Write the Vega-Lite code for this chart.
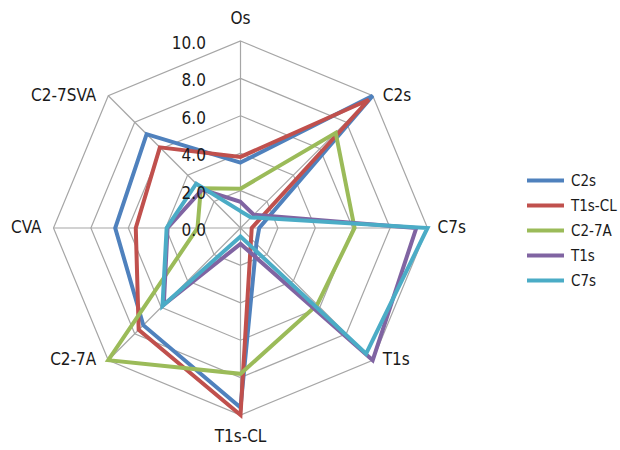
{
  "$schema": "https://vega.github.io/schema/vega-lite/v6.json",
  "width": 620,
  "height": 450,
  "autosize": "none",
  "padding": 0,
  "background": "white",
  "config": {
    "view": {"stroke": null},
    "text": {"font": "DejaVu Sans Condensed, Roboto, sans-serif", "fontSize": 17, "fill": "#1a1a1a"}
  },
  "datasets": {
    "series": [
      {"series": "C2s", "axis": "Os", "k": 0, "value": 3.5},
      {"series": "C2s", "axis": "C2s", "k": 1, "value": 10.0},
      {"series": "C2s", "axis": "C7s", "k": 2, "value": 1.0},
      {"series": "C2s", "axis": "T1s", "k": 3, "value": 1.2},
      {"series": "C2s", "axis": "T1s-CL", "k": 4, "value": 9.6},
      {"series": "C2s", "axis": "C2-7A", "k": 5, "value": 7.35},
      {"series": "C2s", "axis": "CVA", "k": 6, "value": 6.7},
      {"series": "C2s", "axis": "C2-7SVA", "k": 7, "value": 7.1},
      {"series": "T1s-CL", "axis": "Os", "k": 0, "value": 3.8},
      {"series": "T1s-CL", "axis": "C2s", "k": 1, "value": 9.7},
      {"series": "T1s-CL", "axis": "C7s", "k": 2, "value": 0.6},
      {"series": "T1s-CL", "axis": "T1s", "k": 3, "value": 0.8},
      {"series": "T1s-CL", "axis": "T1s-CL", "k": 4, "value": 10.0},
      {"series": "T1s-CL", "axis": "C2-7A", "k": 5, "value": 7.7},
      {"series": "T1s-CL", "axis": "CVA", "k": 6, "value": 5.6},
      {"series": "T1s-CL", "axis": "C2-7SVA", "k": 7, "value": 6.1},
      {"series": "C2-7A", "axis": "Os", "k": 0, "value": 2.1},
      {"series": "C2-7A", "axis": "C2s", "k": 1, "value": 7.2},
      {"series": "C2-7A", "axis": "C7s", "k": 2, "value": 6.1},
      {"series": "C2-7A", "axis": "T1s", "k": 3, "value": 5.8},
      {"series": "C2-7A", "axis": "T1s-CL", "k": 4, "value": 7.8},
      {"series": "C2-7A", "axis": "C2-7A", "k": 5, "value": 10.0},
      {"series": "C2-7A", "axis": "CVA", "k": 6, "value": 2.3},
      {"series": "C2-7A", "axis": "C2-7SVA", "k": 7, "value": 3.0},
      {"series": "T1s", "axis": "Os", "k": 0, "value": 1.4},
      {"series": "T1s", "axis": "C2s", "k": 1, "value": 1.0},
      {"series": "T1s", "axis": "C7s", "k": 2, "value": 9.4},
      {"series": "T1s", "axis": "T1s", "k": 3, "value": 10.0},
      {"series": "T1s", "axis": "T1s-CL", "k": 4, "value": 0.85},
      {"series": "T1s", "axis": "C2-7A", "k": 5, "value": 5.8},
      {"series": "T1s", "axis": "CVA", "k": 6, "value": 3.9},
      {"series": "T1s", "axis": "C2-7SVA", "k": 7, "value": 2.9},
      {"series": "C7s", "axis": "Os", "k": 0, "value": 0.9},
      {"series": "C7s", "axis": "C2s", "k": 1, "value": 0.8},
      {"series": "C7s", "axis": "C7s", "k": 2, "value": 10.0},
      {"series": "C7s", "axis": "T1s", "k": 3, "value": 9.5},
      {"series": "C7s", "axis": "T1s-CL", "k": 4, "value": 0.45},
      {"series": "C7s", "axis": "C2-7A", "k": 5, "value": 5.9},
      {"series": "C7s", "axis": "CVA", "k": 6, "value": 3.95},
      {"series": "C7s", "axis": "C2-7SVA", "k": 7, "value": 3.35}
    ],
    "grid": [
      {"level": 2, "k": [0, 1, 2, 3, 4, 5, 6, 7]},
      {"level": 4, "k": [0, 1, 2, 3, 4, 5, 6, 7]},
      {"level": 6, "k": [0, 1, 2, 3, 4, 5, 6, 7]},
      {"level": 8, "k": [0, 1, 2, 3, 4, 5, 6, 7]},
      {"level": 10, "k": [0, 1, 2, 3, 4, 5, 6, 7]}
    ],
    "spokes": [{"k": 0}, {"k": 1}, {"k": 2}, {"k": 3}, {"k": 4}, {"k": 5}, {"k": 6}, {"k": 7}],
    "labels": [
      {"label": "Os", "k": 0, "side": "c"},
      {"label": "C2s", "k": 1, "side": "l"},
      {"label": "C7s", "k": 2, "side": "l"},
      {"label": "T1s", "k": 3, "side": "l"},
      {"label": "T1s-CL", "k": 4, "side": "c"},
      {"label": "C2-7A", "k": 5, "side": "r"},
      {"label": "CVA", "k": 6, "side": "r"},
      {"label": "C2-7SVA", "k": 7, "side": "r"}
    ],
    "ticks": [{"level": 0}, {"level": 2}, {"level": 4}, {"level": 6}, {"level": 8}, {"level": 10}]
  },
  "layer": [
    {
      "data": {"name": "grid"},
      "transform": [
        {"flatten": ["k"]},
        {"calculate": "datum.level * sin(datum.k * PI / 4)", "as": "px"},
        {"calculate": "datum.level * cos(datum.k * PI / 4)", "as": "py"}
      ],
      "mark": {"type": "line", "interpolate": "linear-closed", "stroke": "#a6a6a6", "strokeWidth": 1.2},
      "encoding": {
        "x": {"field": "px", "type": "quantitative", "scale": {"domain": [-12.861, 20.294], "nice": false, "zero": false}, "axis": null},
        "y": {"field": "py", "type": "quantitative", "scale": {"domain": [-11.872, 12.193], "nice": false, "zero": false}, "axis": null},
        "detail": {"field": "level", "type": "nominal"},
        "order": {"field": "k", "type": "quantitative"}
      }
    },
    {
      "data": {"name": "spokes"},
      "transform": [
        {"calculate": "10 * sin(datum.k * PI / 4)", "as": "px"},
        {"calculate": "10 * cos(datum.k * PI / 4)", "as": "py"}
      ],
      "mark": {"type": "rule", "stroke": "#a6a6a6", "strokeWidth": 1.2},
      "encoding": {
        "x": {"field": "px", "type": "quantitative", "scale": {"domain": [-12.861, 20.294], "nice": false, "zero": false}, "axis": null},
        "y": {"field": "py", "type": "quantitative", "scale": {"domain": [-11.872, 12.193], "nice": false, "zero": false}, "axis": null},
        "x2": {"datum": 0},
        "y2": {"datum": 0}
      }
    },
    {
      "data": {"name": "series"},
      "transform": [
        {"calculate": "datum.value * sin(datum.k * PI / 4)", "as": "px"},
        {"calculate": "datum.value * cos(datum.k * PI / 4)", "as": "py"}
      ],
      "mark": {"type": "line", "interpolate": "linear-closed", "strokeWidth": 4, "strokeJoin": "miter"},
      "encoding": {
        "x": {"field": "px", "type": "quantitative", "scale": {"domain": [-12.861, 20.294], "nice": false, "zero": false}, "axis": null},
        "y": {"field": "py", "type": "quantitative", "scale": {"domain": [-11.872, 12.193], "nice": false, "zero": false}, "axis": null},
        "order": {"field": "k", "type": "quantitative"},
        "color": {
          "field": "series",
          "type": "nominal",
          "scale": {"domain": ["C2s", "T1s-CL", "C2-7A", "T1s", "C7s"], "range": ["#4f81bd", "#c0504d", "#9bbb59", "#8064a2", "#4bacc6"]},
          "legend": {
            "orient": "none",
            "legendX": 525,
            "legendY": 168,
            "title": null,
            "padding": 0,
            "symbolType": "stroke",
            "symbolStrokeWidth": 4,
            "symbolSize": 1369,
            "clipHeight": 25,
            "rowPadding": 0,
            "labelOffset": 5,
            "labelFont": "DejaVu Sans Condensed, Roboto, sans-serif",
            "labelFontSize": 15,
            "labelColor": "#1a1a1a"
          }
        }
      }
    },
    {
      "data": {"name": "ticks"},
      "mark": {"type": "text", "align": "right", "baseline": "middle", "dy": 3},
      "encoding": {
        "x": {"datum": -1.85, "type": "quantitative", "scale": {"domain": [-12.861, 20.294], "nice": false, "zero": false}, "axis": null},
        "y": {"field": "level", "type": "quantitative", "scale": {"domain": [-11.872, 12.193], "nice": false, "zero": false}, "axis": null},
        "text": {"field": "level", "type": "quantitative", "format": ".1f"}
      }
    },
    {
      "data": {"name": "labels"},
      "transform": [
        {"filter": "datum.side == 'c'"},
        {"calculate": "11.2 * sin(datum.k * PI / 4)", "as": "px"},
        {"calculate": "11.2 * cos(datum.k * PI / 4)", "as": "py"}
      ],
      "mark": {"type": "text", "align": "center", "baseline": "middle"},
      "encoding": {
        "x": {"field": "px", "type": "quantitative", "scale": {"domain": [-12.861, 20.294], "nice": false, "zero": false}, "axis": null},
        "y": {"field": "py", "type": "quantitative", "scale": {"domain": [-11.872, 12.193], "nice": false, "zero": false}, "axis": null},
        "text": {"field": "label", "type": "nominal"}
      }
    },
    {
      "data": {"name": "labels"},
      "transform": [
        {"filter": "datum.side == 'l'"},
        {"calculate": "10 * sin(datum.k * PI / 4)", "as": "px"},
        {"calculate": "10 * cos(datum.k * PI / 4)", "as": "py"}
      ],
      "mark": {"type": "text", "align": "left", "baseline": "middle", "dx": 10},
      "encoding": {
        "x": {"field": "px", "type": "quantitative", "scale": {"domain": [-12.861, 20.294], "nice": false, "zero": false}, "axis": null},
        "y": {"field": "py", "type": "quantitative", "scale": {"domain": [-11.872, 12.193], "nice": false, "zero": false}, "axis": null},
        "text": {"field": "label", "type": "nominal"}
      }
    },
    {
      "data": {"name": "labels"},
      "transform": [
        {"filter": "datum.side == 'r'"},
        {"calculate": "10 * sin(datum.k * PI / 4)", "as": "px"},
        {"calculate": "10 * cos(datum.k * PI / 4)", "as": "py"}
      ],
      "mark": {"type": "text", "align": "right", "baseline": "middle", "dx": -12},
      "encoding": {
        "x": {"field": "px", "type": "quantitative", "scale": {"domain": [-12.861, 20.294], "nice": false, "zero": false}, "axis": null},
        "y": {"field": "py", "type": "quantitative", "scale": {"domain": [-11.872, 12.193], "nice": false, "zero": false}, "axis": null},
        "text": {"field": "label", "type": "nominal"}
      }
    }
  ]
}
